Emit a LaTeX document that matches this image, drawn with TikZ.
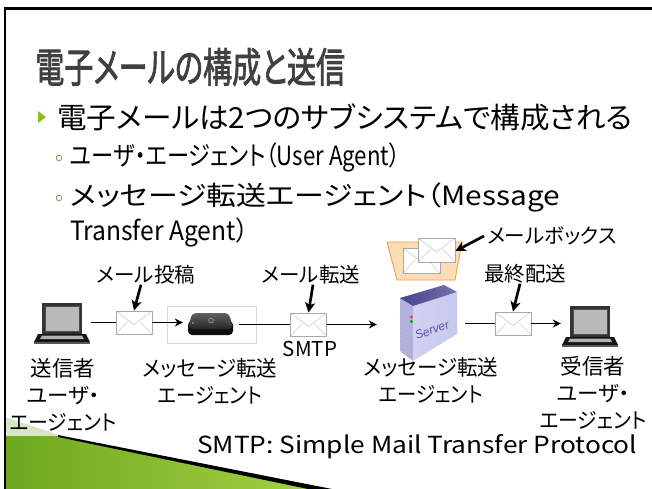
\documentclass[tikz,border=0pt]{standalone}
\usepackage{fontspec}
\usepackage{graphicx}
\setmainfont{Noto Sans CJK JP}[RawFeature=+palt]
\newfontfamily\srvfont{Liberation Sans}
\usetikzlibrary{arrows.meta,calc}

\definecolor{titlegray}{HTML}{404040}
\definecolor{bulletgreen}{HTML}{8CBF26}
\definecolor{ringgreen}{HTML}{7C9A5A}
\definecolor{envgray}{HTML}{A8A8A8}
\definecolor{envline}{HTML}{D2D2D2}
\definecolor{boxorange}{HTML}{F3A23F}
\definecolor{boxfill}{HTML}{FCDDB8}
\definecolor{srvfront}{HTML}{C9C9EF}
\definecolor{srvside}{HTML}{B2B2E0}
\definecolor{srvtop}{HTML}{44448E}
\definecolor{srvtext}{HTML}{5656A8}
\definecolor{decodark}{HTML}{6DA81E}
\definecolor{decolight}{HTML}{A6D243}
\definecolor{decopale}{HTML}{D9E6C4}

% stretch a text horizontally to a given width
\newcommand{\spanto}[2]{\resizebox{#1}{\height}{#2}}
% set a text with a thin outline for a heavier stroke
\newcommand{\heavytext}[1]{\special{pdf:literal direct 2 Tr 0.9 w}#1\special{pdf:literal direct 0 Tr}}

\tikzset{
  envelope/.style={draw=envgray, fill=white, line width=0.9pt,
    minimum width=36pt, minimum height=23pt, inner sep=0pt,
    path picture={
      \draw[envline, line width=0.7pt]
        (path picture bounding box.north west)
        -- ($(path picture bounding box.center)+(0,2)$)
        -- (path picture bounding box.north east);
      \draw[envline, line width=0.6pt]
        (path picture bounding box.south west)
        -- ($(path picture bounding box.center)+(-6,-1)$);
      \draw[envline, line width=0.6pt]
        (path picture bounding box.south east)
        -- ($(path picture bounding box.center)+(6,-1)$);
    }},
  iconbox/.style={inner sep=0pt, minimum width=#1},
  lbl/.style={inner sep=0pt, font=\fontsize{20.5}{24}\selectfont},
  captext/.style={inner sep=0pt, align=center, font=\fontsize{21.5}{27}\selectfont},
  callout/.style={line width=2.7pt, -{Stealth[length=10pt,width=10pt,inset=2.5pt]}},
  flow/.style={line width=1.6pt, -{Stealth[length=8pt,width=8pt]}},
  plain/.style={line width=1.6pt},
  ringbullet/.style={draw=ringgreen, line width=0.8pt},
  laptop/.pic={
    \fill[black!80] (-20,-20) rectangle (20,11);
    \fill[gray!55] (-17,-17) rectangle (17,8);
    \draw[black!70, line width=0.5pt] (-17,-17) rectangle (17,8);
    \fill[black!92] (-24,11) -- (24,11) -- (28,19) -- (-28,19) -- cycle;
    \fill[gray!60] (-20,12.5) -- (20,12.5) -- (22,16) -- (-22,16) -- cycle;
    \fill[black!65] (-28,19) rectangle (28,21);
  },
  minibox/.pic={
    \fill[black!95, rounded corners=4pt] (-23,-4) rectangle (22,10);
    \shade[top color=black!62, bottom color=black!85, rounded corners=4pt]
      (-19,-12) -- (18,-12) -- (22,4) -- (-23,4) -- cycle;
    \draw[gray!75, line width=0.6pt] (0,-4.5) circle (2.4);
    \fill[yellow!70!green] (-18,-2) circle (0.9);
  },
  serverbox/.pic={
    % left face with vents
    \fill[srvside] (-28,-28) -- (-15,-20) -- (-15,35) -- (-28,25) -- cycle;
    \foreach \v in {2,6,...,26}
      \draw[srvtop!45, line width=0.6pt] (-27,\v) -- (-16,\v+5);
    \fill[red!75] (-16.5,-9) circle (1.6);
    \fill[green!65!black] (-16.5,-4.5) circle (1.6);
    % front face
    \shade[left color=srvfront!85!white, right color=srvfront]
      (-15,-20) -- (29,-34) -- (29,8) -- (-15,35) -- cycle;
    % top face
    \shade[left color=srvtop, right color=srvtop!75!white]
      (-28,-28) -- (16,-41) -- (29,-34) -- (-15,-20) -- cycle;
    \node[rotate=20, text=srvtext, inner sep=0pt,
      font=\srvfont\itshape\fontsize{12}{12}\selectfont] at (4,4) {Server};
  },
}

\begin{document}
\begin{tikzpicture}[x=1pt, y=-1pt]
\useasboundingbox (0,0) rectangle (652,488);
\fill[white] (0,0) rectangle (652,488);

% slide decoration, lower left
\fill[decopale] (5,417) -- (62,436) -- (5,436) -- cycle;
\shade[left color=decodark, right color=decolight]
  (5,436) -- (58,436) -- (330,489) -- (5,489) -- cycle;
\fill[black] (58,435) -- (332,489) -- (308,489) -- (58,437) -- cycle;

% slide frame
\draw[line width=2.4pt] (5,490) -- (5,8.5) -- (653,8.5);

% title and bullet text
\node[anchor=west, inner sep=0pt, text=titlegray,
  font=\fontsize{41}{44}\selectfont] (title) at (35,67)
  {\spanto{310pt}{\heavytext{電子メールの構成と送信}}};
\fill[bulletgreen] (38,111) -- (46,117) -- (38,123) -- cycle;
\node[anchor=west, inner sep=0pt, font=\fontsize{29}{32}\selectfont]
  (item1) at (57,117) {\spanto{575pt}{電子メールは2つのサブシステムで構成される}};
\draw[ringbullet] (59,158) circle (2.8);
\node[anchor=west, inner sep=0pt, font=\fontsize{26.5}{30}\selectfont]
  (item2) at (70,157) {\spanto{330pt}{ユーザ・エージェント（User Agent）}};
\draw[ringbullet] (59,198) circle (2.8);
\node[anchor=west, inner sep=0pt, font=\fontsize{26.5}{30}\selectfont]
  (item3) at (70,197) {\spanto{490pt}{メッセージ転送エージェント（Message}};
\node[anchor=west, inner sep=0pt, font=\fontsize{26.5}{30}\selectfont]
  (item3b) at (70,232) {\spanto{178pt}{Transfer Agent）}};

% mailbox
\filldraw[fill=boxfill, draw=boxorange, line width=0.9pt]
  (387,242) -- (462,242) -- (455,280) -- (397,280) -- cycle;
\node[envelope, minimum width=37pt, minimum height=25pt] (mbback) at (421.5,260.5) {};
\node[envelope, minimum width=37pt, minimum height=24pt] (mbfront) at (436.5,250) {};

% hosts and relays
\node[iconbox=58pt, minimum height=42pt] (lap1) at (62,323) {};
\pic at (lap1) {laptop};
\node[envelope] (env1) at (134,322.5) {};
\node[draw=black!15, fill=white, line width=0.8pt, minimum width=89pt,
  minimum height=37pt, inner sep=0pt] (mtabox) at (211.5,324.5) {};
\node[iconbox=56pt, minimum height=24pt] (cube) at (211,325) {};
\pic at (cube) {minibox};
\node[envelope] (env2) at (308.5,324.5) {};
\node[iconbox=88pt, minimum height=90pt] (server) at (421,330) {};
\pic at (428,326) {serverbox};
\node[envelope] (env3) at (513,323.5) {};
\node[iconbox=58pt, minimum height=42pt] (lap2) at (590,326) {};
\pic at (lap2) {laptop};

% message path
\draw[plain] (lap1.east |- env1.west) -- (env1.west);
\draw[flow] (env1.east) -- (env1.east -| cube.west);
\draw[plain] (cube.east |- env2.west) -- (env2.west);
\draw[flow] (env2.east) -- (env2.east -| server.west);
\draw[plain] (server.east |- env3.west) -- (env3.west);
\draw[flow] (env3.east) -- (env3.east -| lap2.west);

% step labels
\node[lbl] (lblpost) at (146,275) {メール投稿};
\node[lbl] (lblrelay) at (311,275) {メール転送};
\node[lbl] (lblfinal) at (525,274) {最終配送};
\node[lbl, anchor=west] (lblbox) at (487,236) {メールボックス};
\node[lbl] (lblsmtp) at (310,349) {SMTP};

\draw[callout] ($(lblpost.south)+(-5,0)$) -- (env1.north);
\draw[callout] ($(lblrelay.south)+(2,0)$) -- (env2.north);
\draw[callout] ($(lblfinal.south)+(-5,0)$) -- (env3.north);
\draw[callout] ($(lblbox.west)+(-3,0)$) -- ($(mbfront.east)+(0,1)$);

% captions
\node[captext] (capsend) at (63,395)
  {送信者\\ユーザ・\\\spanto{107pt}{エージェント}};
\node[captext] (capmta1) at (210,381.5)
  {\spanto{134pt}{メッセージ転送}\\\spanto{104pt}{エージェント}};
\node[captext] (capmta2) at (431,380)
  {\spanto{134pt}{メッセージ転送}\\\spanto{104pt}{エージェント}};
\node[captext] (caprecv) at (593,393)
  {受信者\\ユーザ・\\\spanto{107pt}{エージェント}};

\node[anchor=west, inner sep=0pt, font=\fontsize{23.5}{26}\selectfont]
  (footer) at (197,447) {\spanto{440pt}{SMTP: Simple Mail Transfer Protocol}};
\end{tikzpicture}
\end{document}
